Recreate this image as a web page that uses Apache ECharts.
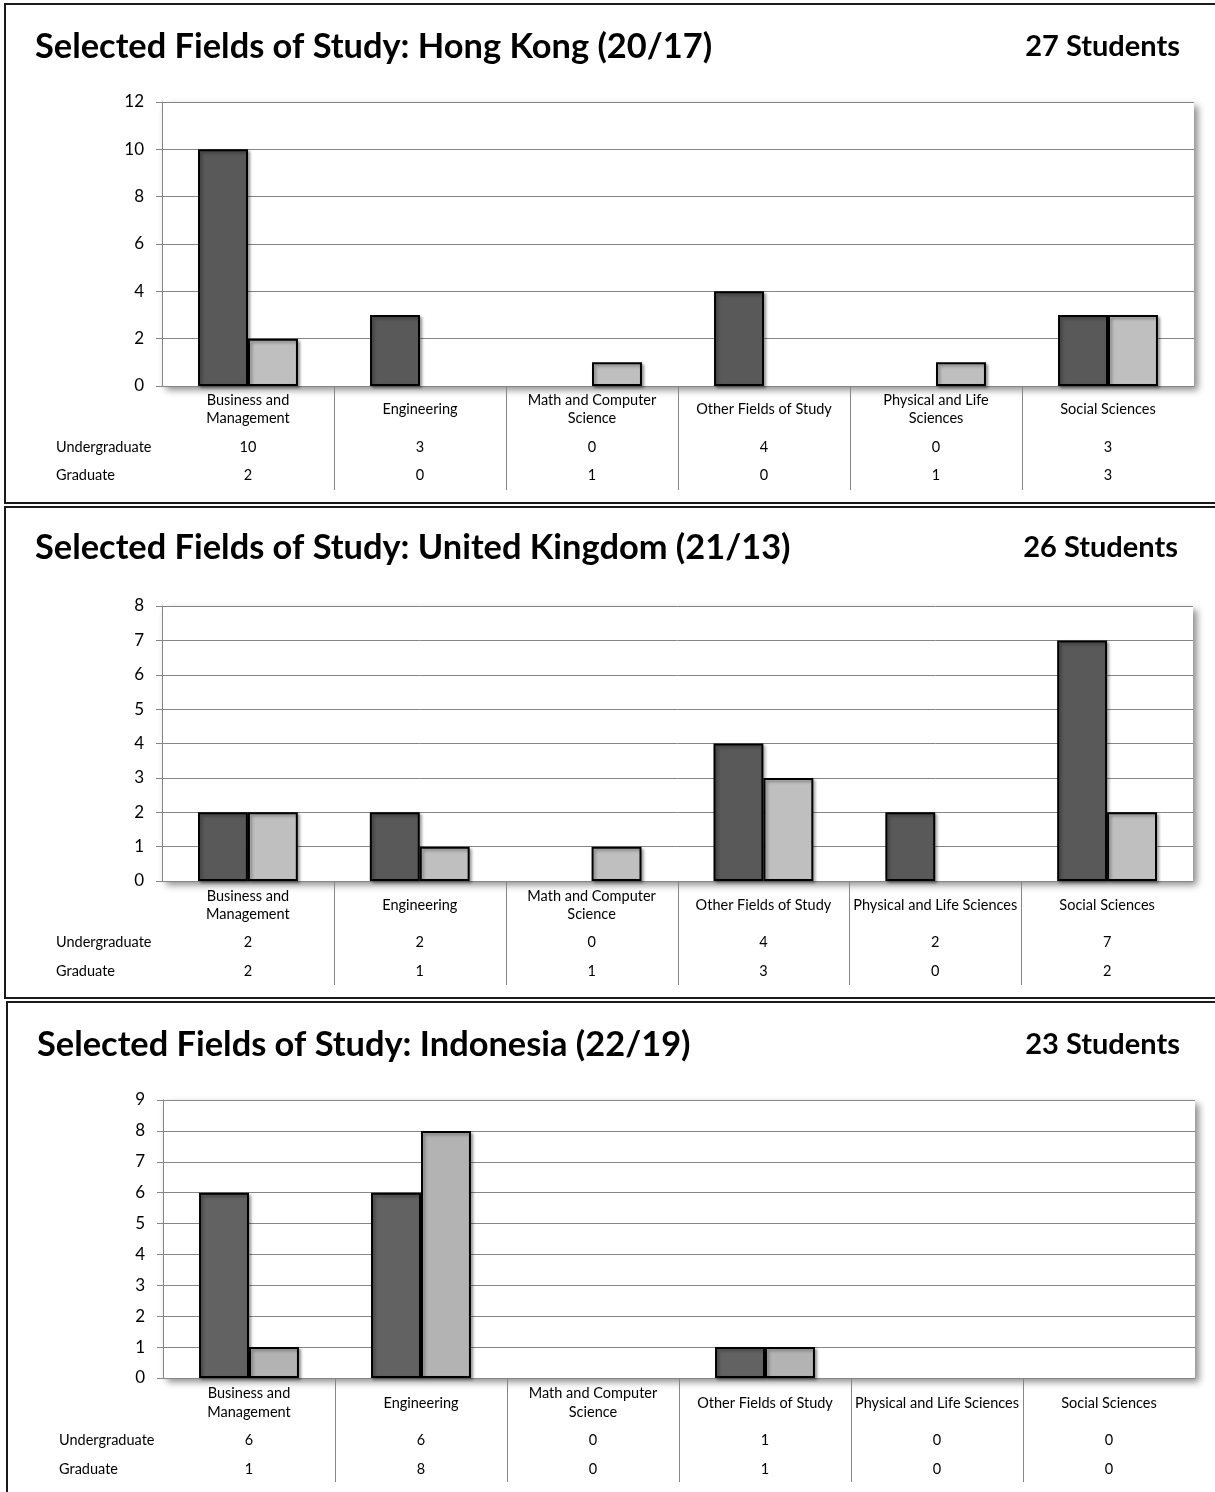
<!DOCTYPE html>
<html><head><meta charset="utf-8">
<script src="https://cdn.jsdelivr.net/npm/echarts@6/dist/echarts.min.js"></script>
<style>html,body{margin:0;padding:0;background:#fff}#c{width:1215px;height:1492px}</style>
</head><body><div id="c"></div>
<script>
// ---- data ----
const fieldsHK = ['Business and\nManagement', 'Engineering', 'Math and Computer\nScience', 'Other Fields of Study', 'Physical and Life\nSciences', 'Social Sciences'];
const fieldsUK = ['Business and\nManagement', 'Engineering', 'Math and Computer\nScience', 'Other Fields of Study', 'Physical and Life Sciences', 'Social Sciences'];
const fieldsID = ['Business and\nManagement', 'Engineering', 'Math and Computer\nScience', 'Other Fields of Study', 'Physical and Life Sciences', 'Social Sciences'];
const hkUndergrad = [10, 3, 0, 4, 0, 3];
const hkGrad = [2, 0, 1, 0, 1, 3];
const ukUndergrad = [2, 2, 0, 4, 2, 7];
const ukGrad = [2, 1, 1, 3, 0, 2];
const idUndergrad = [6, 6, 0, 1, 0, 0];
const idGrad = [1, 8, 0, 1, 0, 0];
const titles = ['Selected Fields of Study: Hong Kong (20/17)', 'Selected Fields of Study: United Kingdom (21/13)', 'Selected Fields of Study: Indonesia (22/19)'];
const totals = ['27 Students', '26 Students', '23 Students'];
const yMax = [12, 8, 9];
const yStep = [2, 1, 1];
const rowLabels = ['Undergraduate', 'Graduate'];
const panelData = [
  { cats: fieldsHK, ug: hkUndergrad, gr: hkGrad },
  { cats: fieldsUK, ug: ukUndergrad, gr: ukGrad },
  { cats: fieldsID, ug: idUndergrad, gr: idGrad }
];

// ---- layout / style ----
const FONT = 'Lato, "Open Sans", sans-serif';
const TFS = 14.5;
const layout = [
  { grid: { left: 162, top: 102, width: 1032, height: 284 }, lab: { margin: 5, nl: 18, u: 40, g: 16 }, rowY: [447, 475], rowX: 56, sepBottom: 490,
    colors: ['#595959', '#bfbfbf'], titleY: 47, titleX: 35, totalX: 1180, border: { x: 5, y: 4, h: 499 } },
  { grid: { left: 162, top: 606, width: 1031, height: 275 }, lab: { margin: 6, nl: 18, u: 38, g: 20 }, rowY: [942, 971], rowX: 56, sepBottom: 985,
    colors: ['#595959', '#bfbfbf'], titleY: 548, titleX: 35, totalX: 1178, border: { x: 5, y: 507, h: 491 } },
  { grid: { left: 163, top: 1100, width: 1032, height: 278 }, lab: { margin: 6, nl: 19, u: 36, g: 22 }, rowY: [1440, 1469], rowX: 59, sepBottom: 1482,
    colors: ['#626262', '#b3b3b3'], titleY: 1045, titleX: 37, totalX: 1180, border: { x: 7, y: 1002, h: 520 } }
];
const AXIS_GRAY = '#868686';

const chart = echarts.init(document.getElementById('c'), null, { renderer: 'canvas' });

const grids = [], xAxes = [], yAxes = [], series = [], graphic = [];
panelData.forEach((pd, i) => {
  const L = layout[i];
  grids.push(Object.assign({ show: true, backgroundColor: '#fff', borderWidth: 0,
    shadowColor: 'rgba(0,0,0,0.45)', shadowBlur: 7, shadowOffsetX: 4, shadowOffsetY: 4 }, L.grid));
  const txt = { fontSize: TFS, fontFamily: FONT, color: '#000' };
  xAxes.push({
    type: 'category', gridIndex: i, data: pd.cats,
    axisLine: { lineStyle: { color: AXIS_GRAY, width: 1 } },
    axisTick: { show: false },
    axisLabel: {
      interval: 0, margin: L.lab.margin, color: '#000', fontFamily: FONT, fontSize: TFS,
      formatter: (val, idx) => {
        const lines = val.split('\n');
        const head = lines.length > 1 ? lines.map(s => '{n|' + s + '}').join('\n') : '{n1|' + val + '}';
        return head + '\n{u|' + pd.ug[idx] + '}\n{g|' + pd.gr[idx] + '}';
      },
      rich: {
        n: Object.assign({ lineHeight: L.lab.nl }, txt),
        n1: Object.assign({ lineHeight: L.lab.nl * 2 }, txt),
        u: Object.assign({ lineHeight: L.lab.u }, txt),
        g: Object.assign({ lineHeight: L.lab.g }, txt)
      }
    }
  });
  yAxes.push({
    type: 'value', gridIndex: i, min: 0, max: yMax[i], interval: yStep[i],
    axisLine: { show: true, lineStyle: { color: AXIS_GRAY, width: 1 } },
    axisTick: { show: true, length: 6, lineStyle: { color: AXIS_GRAY } },
    axisLabel: { margin: 18, color: '#000', fontFamily: FONT, fontSize: 17 },
    splitLine: { lineStyle: { color: AXIS_GRAY, width: 1 } }
  });
  [pd.ug, pd.gr].forEach((vals, s) => {
    series.push({
      type: 'bar', name: rowLabels[s], xAxisIndex: i, yAxisIndex: i,
      data: vals.map(v => v === 0 ? { value: v, itemStyle: { opacity: 0 } } : v),
      barGap: '0%', barCategoryGap: '41.9%',
      itemStyle: { color: L.colors[s], borderColor: '#000', borderWidth: 2,
        shadowColor: 'rgba(0,0,0,0.35)', shadowBlur: 3, shadowOffsetX: 2, shadowOffsetY: 2 },
      silent: true
    });
  });
  graphic.push({ type: 'rect', shape: { x: L.border.x, y: L.border.y, width: 1240, height: L.border.h },
    style: { fill: 'none', stroke: '#1a1a1a', lineWidth: 2 }, z: 10 });
  graphic.push({ type: 'text', x: L.titleX, y: L.titleY, style: { text: titles[i], fill: '#000',
    font: 'bold 34.4px ' + FONT, align: 'left', verticalAlign: 'middle' } });
  graphic.push({ type: 'text', x: L.totalX, y: L.titleY, style: { text: totals[i], fill: '#000',
    font: 'bold 29px ' + FONT, align: 'right', verticalAlign: 'middle' } });
  rowLabels.forEach((r, k) => {
    graphic.push({ type: 'text', x: L.rowX, y: L.rowY[k], style: { text: r, fill: '#000',
      font: TFS + 'px ' + FONT, align: 'left', verticalAlign: 'middle' } });
  });
});

chart.setOption({
  animation: false,
  backgroundColor: '#fff',
  grid: grids, xAxis: xAxes, yAxis: yAxes, series: series, graphic: graphic
});

panelData.forEach((pd, i) => {
  const L = layout[i];
  const axisY = chart.convertToPixel({ yAxisIndex: i }, 0);
  const centers = pd.cats.map(c => chart.convertToPixel({ xAxisIndex: i }, c));
  for (let k = 0; k < centers.length - 1; k++) {
    const x = Math.round((centers[k] + centers[k + 1]) / 2) + 0.5;
    graphic.push({ type: 'line', shape: { x1: x, y1: axisY, x2: x, y2: L.sepBottom },
      style: { stroke: AXIS_GRAY, lineWidth: 1 } });
  }
});
chart.setOption({ graphic: graphic });
</script></body></html>
